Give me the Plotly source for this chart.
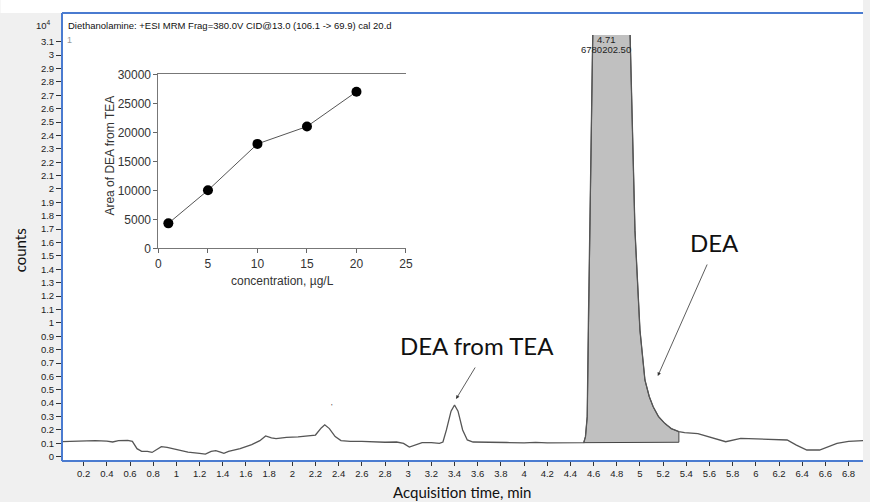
import plotly.graph_objects as go

# ---- chromatogram: acquisition time (min) vs counts (x10^4) ----
time_min = [
    0.0, 0.1, 0.2, 0.3, 0.4, 0.45, 0.5, 0.58, 0.62, 0.66, 0.7, 0.75, 0.79, 0.83, 0.87,
    0.92, 1.0, 1.1, 1.2, 1.25, 1.3, 1.34, 1.38, 1.41, 1.45, 1.55, 1.65, 1.72, 1.77,
    1.82, 1.86, 1.95, 2.05, 2.15, 2.2, 2.25, 2.28, 2.32, 2.37, 2.42, 2.5, 2.6, 2.7,
    2.8, 2.9, 2.96, 3.01, 3.06, 3.12, 3.2, 3.27, 3.3, 3.33, 3.37, 3.4, 3.43, 3.47,
    3.51, 3.56, 3.7, 3.8, 3.85, 4.0, 4.1, 4.2, 4.3, 4.4, 4.515, 4.53, 4.545, 4.555,
    4.57, 4.59, 4.6, 4.71, 4.9, 4.915, 4.957, 5.0, 5.043, 5.08, 5.114, 5.16, 5.214,
    5.27, 5.336, 5.385, 5.5, 5.6, 5.74, 5.87, 6.0, 6.15, 6.27, 6.35, 6.44, 6.55,
    6.62, 6.7, 6.8, 6.93,
]
counts_e4 = [
    0.112, 0.115, 0.118, 0.12, 0.117, 0.11, 0.12, 0.122, 0.115, 0.06, 0.04, 0.04,
    0.032, 0.055, 0.075, 0.07, 0.055, 0.035, 0.025, 0.02, 0.04, 0.045, 0.035, 0.025,
    0.04, 0.06, 0.09, 0.12, 0.155, 0.14, 0.135, 0.145, 0.148, 0.155, 0.162, 0.215,
    0.238, 0.21, 0.15, 0.12, 0.115, 0.115, 0.11, 0.108, 0.11, 0.1, 0.072, 0.085,
    0.105, 0.105, 0.1, 0.11, 0.2, 0.34, 0.386, 0.34, 0.2, 0.125, 0.11, 0.108, 0.103,
    0.106, 0.104, 0.107, 0.104, 0.106, 0.105, 0.105, 0.15, 0.3, 1.0, 2.0, 3.0, 3.5,
    25.0, 3.6, 3.15, 1.69, 0.946, 0.573, 0.45, 0.373, 0.3, 0.249, 0.21, 0.187, 0.18,
    0.172, 0.145, 0.112, 0.137, 0.133, 0.128, 0.125, 0.087, 0.05, 0.05, 0.075, 0.1,
    0.115, 0.12,
]

# integrated peak (DEA) window and its baseline
peak_rt = 4.71
peak_area = "6780202.50"
peak_start, peak_end = 4.515, 5.336
baseline_start, baseline_end = 0.105, 0.108

y_tick_vals = [round(0.1 * i, 1) for i in range(32)]
y_tick_text = ["0", "0.1", "0.2", "0.3", "0.4", "0.5", "0.6", "0.7", "0.8", "0.9", "1",
               "1.1", "1.2", "1.3", "1.4", "1.5", "1.6", "1.7", "1.8", "1.9", "2",
               "2.1", "2.2", "2.3", "2.4", "2.5", "2.6", "2.7", "2.8", "2.9", "3", "3.1"]
x_tick_vals = [round(0.2 * i, 1) for i in range(1, 35)]
x_tick_text = ["0.2", "0.4", "0.6", "0.8", "1", "1.2", "1.4", "1.6", "1.8", "2", "2.2",
               "2.4", "2.6", "2.8", "3", "3.2", "3.4", "3.6", "3.8", "4", "4.2", "4.4",
               "4.6", "4.8", "5", "5.2", "5.4", "5.6", "5.8", "6", "6.2", "6.4", "6.6",
               "6.8"]

# ---- inset: calibration of DEA formed from TEA ----
conc_ug_per_l = [1, 5, 10, 15, 20]
area_dea_from_tea = [4300, 10000, 18000, 21000, 27000]
inset_x_ticks = [0, 5, 10, 15, 20, 25]
inset_y_ticks = [0, 5000, 10000, 15000, 20000, 25000, 30000]

W, H = 870, 502
L, R, T, B = 62, 0, 35, 41


def px(x):
    return (x - L) / (W - L - R)


def py(y):
    return (H - B - y) / (H - T - B)


# polygon of the integrated region, built from the trace itself
fill_x = [t for t in time_min if peak_start <= t <= peak_end]
fill_y = [c for t, c in zip(time_min, counts_e4) if peak_start <= t <= peak_end]
fill_x += [peak_end, peak_start, peak_start]
fill_y += [baseline_end, baseline_start, fill_y[0]]

fig = go.Figure()
fig.add_trace(go.Scatter(
    x=fill_x, y=fill_y, mode="lines", fill="toself", fillcolor="#c0c0c0",
    line=dict(color="#444444", width=1), hoverinfo="skip", showlegend=False,
))
fig.add_trace(go.Scatter(
    x=time_min, y=counts_e4, mode="lines",
    line=dict(color="#555555", width=1.3), showlegend=False,
))
fig.add_trace(go.Scatter(
    x=conc_ug_per_l, y=area_dea_from_tea, mode="lines+markers",
    line=dict(color="#555555", width=1),
    marker=dict(color="black", size=10),
    xaxis="x2", yaxis="y2", showlegend=False,
))

tick_font = dict(family="Liberation Sans, Arial, sans-serif", size=9.5, color="#222222")
inset_font = dict(family="Liberation Sans, Arial, sans-serif", size=12, color="#333333")
label_font = dict(family="Lato, Open Sans, sans-serif", size=24, color="#111111")
title_font = dict(family="Lato, Open Sans, sans-serif", size=15, color="#111111")
frame_blue = "#4a7bd0"

shapes = [
    # white header strip and inner header band
    dict(type="rect", xref="paper", yref="paper", x0=px(0), x1=px(W), y0=py(13), y1=py(0),
         fillcolor="white", line=dict(width=0), layer="below"),
    dict(type="rect", xref="paper", yref="paper", x0=px(L), x1=px(W), y0=py(35), y1=py(13),
         fillcolor="white", line=dict(width=0), layer="below"),
    # blue frame
    dict(type="line", xref="paper", yref="paper", x0=px(L), x1=px(W), y0=py(13), y1=py(13),
         line=dict(color=frame_blue, width=2)),
    dict(type="line", xref="paper", yref="paper", x0=px(L), x1=px(L), y0=py(13), y1=py(461),
         line=dict(color=frame_blue, width=2)),
    dict(type="line", xref="paper", yref="paper", x0=px(L), x1=px(W), y0=py(461), y1=py(461),
         line=dict(color=frame_blue, width=2)),
]

annotations = [
    dict(text="Diethanolamine: +ESI MRM Frag=380.0V CID@13.0 (106.1 -> 69.9) cal 20.d",
         xref="paper", yref="paper", x=px(66), y=py(25), xanchor="left", yanchor="middle",
         showarrow=False, font=dict(family="Liberation Sans, Arial", size=9.5, color="#111")),
    dict(text="10<sup>4</sup>", xref="paper", yref="paper", x=px(53), y=py(25),
         xanchor="right", yanchor="middle", showarrow=False,
         font=dict(family="Liberation Sans, Arial", size=9.5, color="#222")),
    dict(text="1", xref="paper", yref="paper", x=px(65), y=py(40), xanchor="left",
         yanchor="middle", showarrow=False,
         font=dict(family="Liberation Sans, Arial", size=9, color="#999")),
    dict(text=f"{peak_rt:.2f}", xref="x", yref="paper", x=peak_rt, y=py(39),
         xanchor="center", yanchor="middle", showarrow=False,
         font=dict(family="Liberation Sans, Arial", size=9.5, color="#222")),
    dict(text=peak_area, xref="x", yref="paper", x=peak_rt, y=py(49),
         xanchor="center", yanchor="middle", showarrow=False,
         font=dict(family="Liberation Sans, Arial", size=9.5, color="#222")),
    dict(text="'", xref="paper", yref="paper", x=px(331), y=py(413), showarrow=False,
         font=dict(family="Liberation Sans, Arial", size=8, color="#333")),
    dict(text="DEA from TEA", xref="paper", yref="paper", x=px(481), y=py(345),
         xanchor="center", yanchor="middle", showarrow=False, font=label_font),
    dict(text="", xref="paper", yref="paper", x=px(459.5), y=py(399), ax=20, ay=-33,
         showarrow=True, arrowhead=2, arrowsize=0.9, arrowwidth=0.8, arrowcolor="#333"),
    dict(text="DEA", xref="paper", yref="paper", x=px(720), y=py(242),
         xanchor="center", yanchor="middle", showarrow=False, font=label_font),
    dict(text="", xref="paper", yref="paper", x=px(663), y=py(376), ax=50, ay=-113,
         showarrow=True, arrowhead=2, arrowsize=0.9, arrowwidth=0.8, arrowcolor="#333"),
    dict(text="Acquisition time, min", xref="paper", yref="paper", x=px(465), y=py(492),
         xanchor="center", yanchor="middle", showarrow=False, font=title_font),
    dict(text="counts", xref="paper", yref="paper", x=px(20), y=py(250), textangle=-90,
         xanchor="center", yanchor="middle", showarrow=False, font=title_font),
    dict(text="Area of DEA from TEA", xref="paper", yref="paper", x=px(110), y=py(156),
         textangle=-90, xanchor="center", yanchor="middle", showarrow=False, font=inset_font),
    dict(text="concentration, \u00b5g/L", xref="paper", yref="paper", x=px(284), y=py(281),
         xanchor="center", yanchor="middle", showarrow=False, font=inset_font),
]

fig.update_layout(
    width=W, height=H,
    margin=dict(l=L, r=R, t=T, b=B),
    paper_bgcolor="#f0f0f0", plot_bgcolor="white",
    xaxis=dict(range=[(L - 60.5) / 116.9, (W - 60.5) / 116.9], tickvals=x_tick_vals,
               ticktext=x_tick_text, ticks="outside", ticklen=4, tickcolor="#333",
               tickfont=tick_font, showgrid=False, zeroline=False, showline=False),
    yaxis=dict(range=[-0.032, 3.15], tickvals=y_tick_vals, ticktext=y_tick_text,
               ticks="outside", ticklen=5, tickcolor="#333", tickfont=tick_font,
               showgrid=False, zeroline=False, showline=False),
    xaxis2=dict(domain=[px(159.3), px(409)], anchor="y2", range=[0, 25],
                tickvals=inset_x_ticks, ticks="outside", ticklen=4,
                tickcolor="#666", tickfont=inset_font, showline=True, linecolor="#777",
                linewidth=1, mirror=True, showgrid=False, zeroline=False),
    yaxis2=dict(domain=[py(248.3), py(74.3)], anchor="x2", range=[0, 30000],
                tickvals=inset_y_ticks, tickformat="d", ticks="outside",
                ticklen=4, tickcolor="#666", tickfont=inset_font, showline=True,
                linecolor="#777", linewidth=1, showgrid=False, zeroline=False),
    shapes=shapes,
    annotations=annotations,
)

fig.write_html("out.html")
